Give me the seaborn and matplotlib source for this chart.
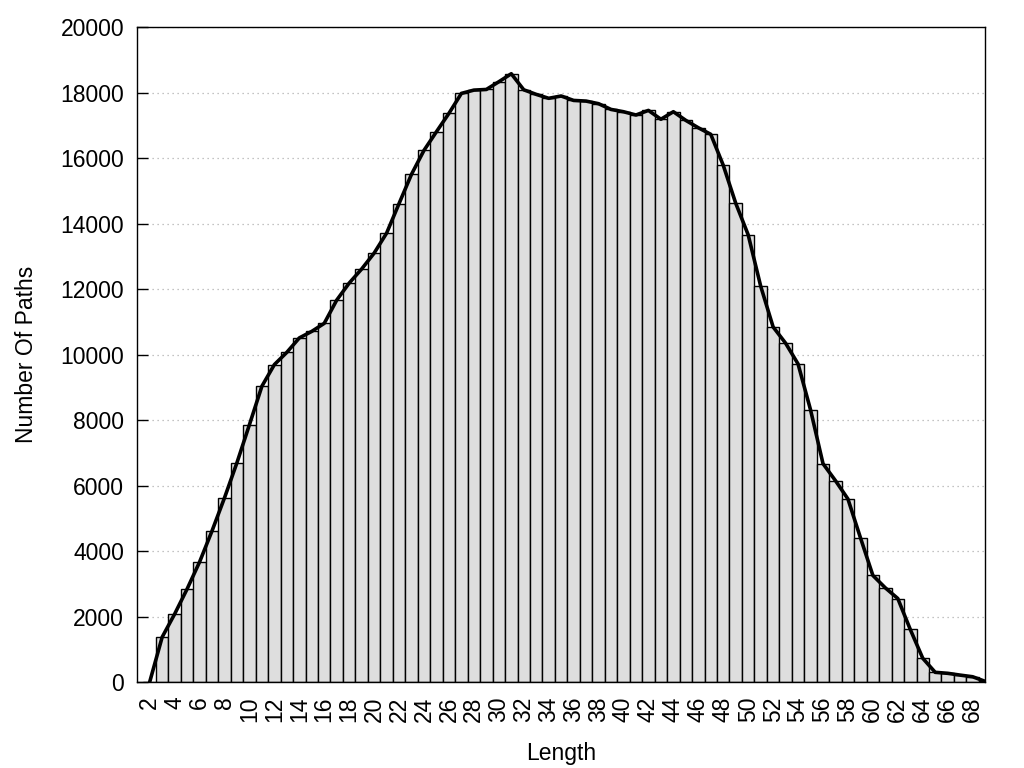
import matplotlib
matplotlib.use("Agg")
import matplotlib.pyplot as plt
import seaborn as sns

# path length -> number of paths
lengths = list(range(2, 70))
counts = [
    0, 1370, 2075, 2840, 3665, 4615, 5625, 6700, 7860, 9035,
    9695, 10070, 10510, 10710, 10955, 11665, 12185, 12615, 13100, 13710,
    14615, 15510, 16240, 16810, 17370, 17980, 18080, 18100, 18335, 18580,
    18090, 17950, 17830, 17900, 17765, 17745, 17665, 17490, 17420, 17320,
    17460, 17190, 17420, 17155, 16930, 16730, 15785, 14625, 13660, 12095,
    10845, 10350, 9715, 8315, 6670, 6150, 5590, 4410, 3255, 2875,
    2550, 1605, 725, 295, 265, 210, 160, 20,
]
y_ticks = list(range(0, 20001, 2000))
x_ticks = list(range(2, 69, 2))

sns.set_style("white")
plt.rcParams["font.family"] = ["Liberation Sans", "DejaVu Sans"]
plt.rcParams["text.color"] = "black"
plt.rcParams["axes.labelcolor"] = "black"
plt.rcParams["xtick.color"] = "black"
plt.rcParams["ytick.color"] = "black"
fs = 16.5

fig = plt.figure(figsize=(10.24, 7.68), dpi=100)
ax = fig.add_axes([0.134, 0.112, 0.828, 0.8525])

sns.barplot(x=lengths, y=counts, native_scale=True, width=1.0,
            color="#dedede", saturation=1, edgecolor="black", linewidth=1.0,
            ax=ax, zorder=2)
sns.lineplot(x=lengths, y=counts, color="black", linewidth=2.6, ax=ax, zorder=3)

ax.set_xlim(1, 69)
ax.set_ylim(0, 20000)
ax.set_yticks(y_ticks)
ax.set_yticklabels([str(v) for v in y_ticks], fontsize=fs)
ax.set_xticks(x_ticks)
ax.set_xticklabels([str(v) for v in x_ticks], fontsize=fs, rotation=90)

ax.tick_params(axis="y", direction="in", length=8, width=1, pad=9.5, left=True)
ax.tick_params(axis="x", length=0, pad=10.5)

ax.yaxis.grid(True, linestyle=(0, (1, 3)), color="#b0b0b0", linewidth=0.9, zorder=0)
ax.xaxis.grid(False)
ax.set_axisbelow(True)

for s in ax.spines.values():
    s.set_visible(True)
    s.set_color("black")
    s.set_linewidth(1.0)

ax.set_xlabel("Length", fontsize=fs, labelpad=14)
ax.set_ylabel("Number Of Paths", fontsize=fs, labelpad=16)

fig.savefig("out.png", dpi=100)
